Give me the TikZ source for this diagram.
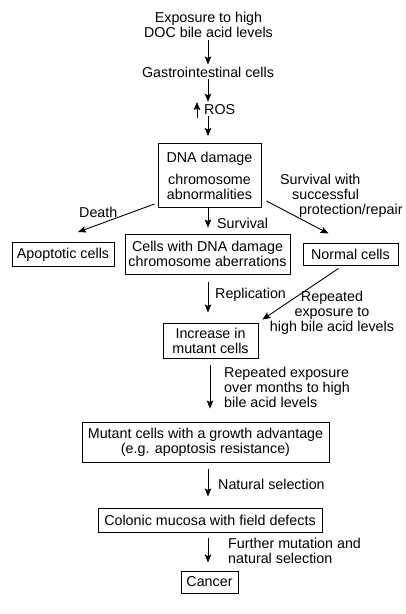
\documentclass[tikz,border=0pt]{standalone}
\usepackage{fontspec}
\setmainfont{Liberation Sans}
\usetikzlibrary{arrows.meta}
\begin{document}
\begin{tikzpicture}[x=1pt,y=-1pt,
  font=\fontsize{14.3}{15}\selectfont,
  box/.style={draw, line width=0.9pt, inner sep=0pt, align=center},
  txt/.style={align=center, inner sep=2pt},
  lbl/.style={align=left, inner sep=0pt, anchor=west},
  arr/.style={-{Stealth[length=8pt,width=6.5pt,inset=1.5pt]}, line width=0.9pt}]
\useasboundingbox (0,0) rectangle (406,614);
% nodes
\node[txt] (expo) at (208.5,25) {Exposure to high\\DOC bile acid levels};
\node[txt] (gi) at (208,72) {Gastrointestinal cells};
\node[txt, inner sep=0pt, anchor=west] (ros) at (204,110) {ROS};
\node[box, minimum width=103, minimum height=64] (dna) at (209.5,175.5) {DNA damage\\[7pt]chromosome\\abnormalities};
\node[box, minimum width=102, minimum height=24] (apop) at (63,254.5) {Apoptotic cells};
\node[box, minimum width=165, minimum height=40] (cells) at (207.5,254) {Cells with DNA damage\\chromosome aberrations};
\node[box, minimum width=95, minimum height=22] (normal) at (350.5,254) {Normal cells};
\node[box, minimum width=95, minimum height=35] (inc) at (210.5,340.5) {Increase in\\mutant cells};
\node[box, minimum width=247, minimum height=40] (mut) at (205.5,442) {Mutant cells with a growth advantage\\(e.g. apoptosis resistance)};
\node[box, minimum width=224, minimum height=24] (col) at (210,520) {Colonic mucosa with field defects};
\node[box, minimum width=57, minimum height=22] (cancer) at (209.5,582) {Cancer};
% labels
\node[lbl] (ldeath) at (79,212) {Death};
\node[lbl] (lsurv) at (217,223) {Survival};
\node[lbl] (lsurvw) at (280,196) {Survival with\\\hspace*{12pt}successful\\\hspace*{19pt}protection/repair};
\node[lbl] (lrepl) at (215,295) {Replication};
\node[txt, inner sep=0pt] (lrep1) at (332,313) {Repeated\\exposure to\\high bile acid levels};
\node[lbl] (lrep2) at (224,387.5) {Repeated exposure\\over months to high\\bile acid levels};
\node[lbl] (lnat) at (218,484) {Natural selection};
\node[lbl] (lfur) at (228,550.5) {Further mutation and\\natural selection};
% connectors
\coordinate (axis) at (208,0);
\draw[arr] (expo.south -| axis) -- (gi.north -| axis);
\draw[arr] (gi.south -| axis) -- ([yshift=3pt]ros.north -| axis);
\coordinate (upb) at (197,118);
\coordinate (upt) at (197,102);
\draw[arr] (upb) -- (upt);
\draw[arr] ([yshift=-1pt]ros.south -| axis) -- ([yshift=7pt]dna.north -| axis);
\draw[arr, shorten >=6pt] (dna.south -| axis) -- (cells.north -| axis);
\draw[arr] ([xshift=-3pt,yshift=4pt]dna.south west) -- ([xshift=15pt,yshift=10pt]apop.north);
\draw[arr] ([xshift=5pt,yshift=7pt]dna.south east) -- ([xshift=-22pt,yshift=9pt]normal.north);
\draw[arr, shorten <=8pt, shorten >=10pt] (cells.south -| axis) -- (inc.north -| axis);
\draw[arr] ([xshift=-12pt,yshift=-3pt]normal.south) -- ([xshift=4pt,yshift=3pt]inc.north east);
\draw[arr, shorten <=7pt, shorten >=13pt] (inc.south -| 210,0) -- (mut.north -| 210,0);
\draw[arr, shorten <=7pt, shorten >=11pt] (mut.south -| axis) -- (col.north -| axis);
\draw[arr, shorten <=6pt, shorten >=8pt] (col.south -| axis) -- (cancer.north -| axis);
\end{tikzpicture}
\end{document}
